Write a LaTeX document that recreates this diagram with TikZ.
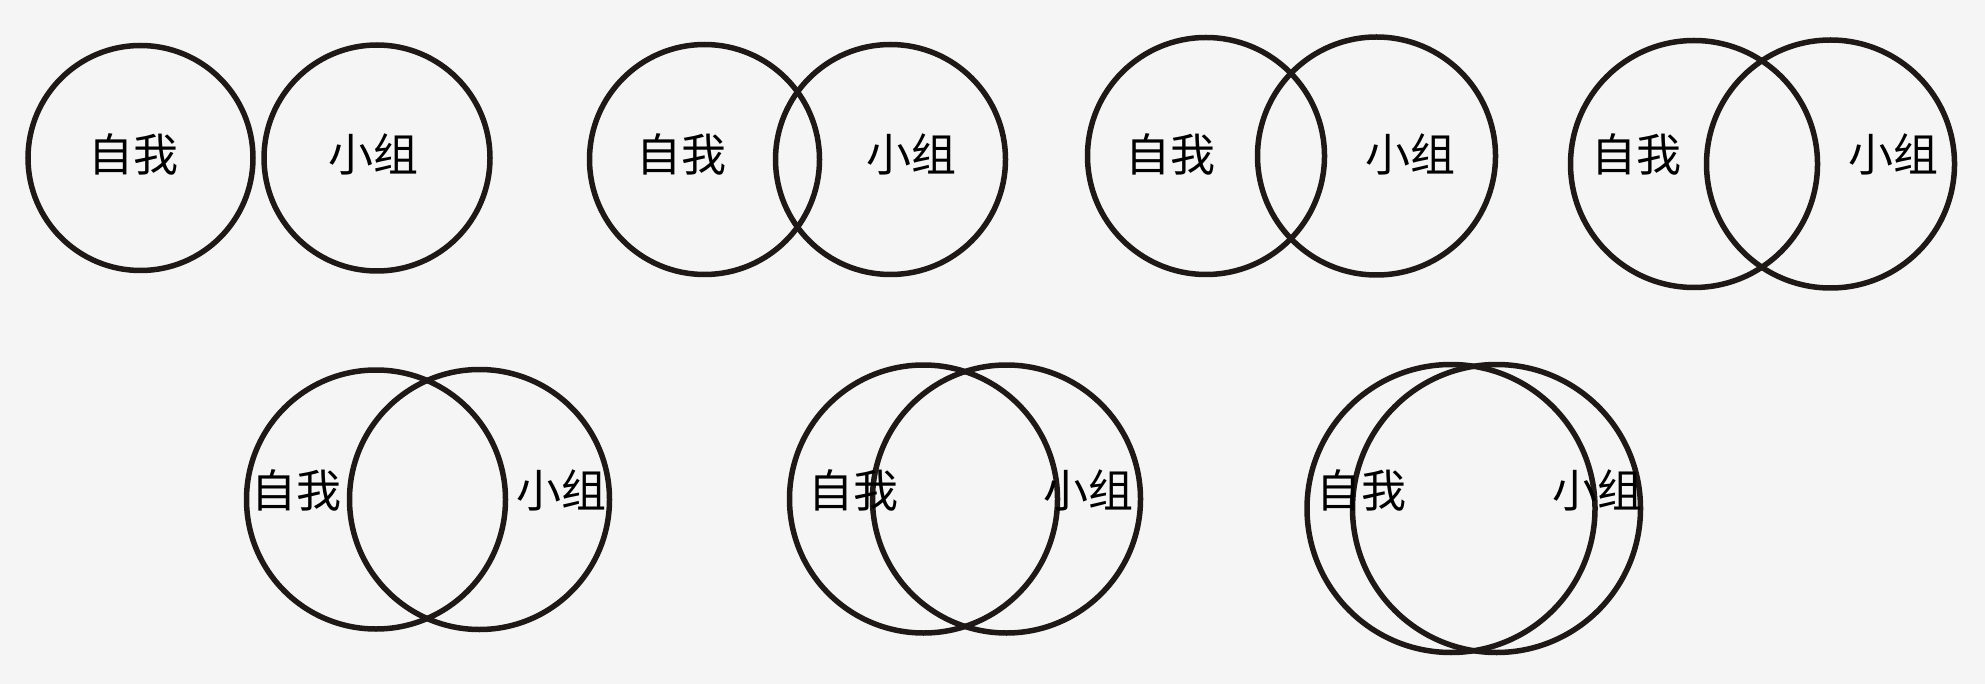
\documentclass[tikz,border=0pt]{standalone}
\usepackage{fontspec}
\newfontfamily\cjk{Noto Sans CJK SC}
\definecolor{bgc}{HTML}{F5F5F5}
\definecolor{ink}{HTML}{1E1816}
\begin{document}
\begin{tikzpicture}[x=1pt,y=-1pt,
  ring/.style={draw=ink,line width=5.5pt,circle,inner sep=0pt,minimum size=#1},
  lbl/.style={font=\cjk\fontsize{45}{45}\selectfont,text=black,anchor=base,inner sep=0pt}]
\fill[bgc] (0,0) rectangle (1985,684);
\useasboundingbox (0,0) rectangle (1985,684);
% pair 1
\node[ring=225] (a1) at (140.5,158) {};
\node[ring=226] (b1) at (377,158) {};
\node[lbl] (ta1) at (133,172) {自我};
\node[lbl] (tb1) at (373,172) {小组};
% pair 2
\node[ring=230] (a2) at (704.5,159.5) {};
\node[ring=230] (b2) at (890.5,159.5) {};
\node[lbl] (ta2) at (681,172) {自我};
\node[lbl] (tb2) at (911,172) {小组};
% pair 3
\node[ring=237] (a3) at (1206,156) {};
\node[ring=238] (b3) at (1376.5,156) {};
\node[lbl] (ta3) at (1170,172) {自我};
\node[lbl] (tb3) at (1410,172) {小组};
% pair 4
\node[ring=247] (a4) at (1694,164) {};
\node[ring=248] (b4) at (1830.5,164) {};
\node[lbl] (ta4) at (1636.5,172) {自我};
\node[lbl] (tb4) at (1893.5,172) {小组};
% pair 5
\node[ring=259] (a5) at (376,499.5) {};
\node[ring=260] (b5) at (479.5,499.5) {};
\node[lbl] (ta5) at (296.5,507) {自我};
\node[lbl] (tb5) at (561.5,507) {小组};
% pair 6
\node[ring=268] (a6) at (923.5,499) {};
\node[ring=268] (b6) at (1006.5,499) {};
\node[lbl] (ta6) at (853.5,507) {自我};
\node[lbl] (tb6) at (1088.5,507) {小组};
% pair 7
\node[ring=288] (a7) at (1451,508.5) {};
\node[ring=288] (b7) at (1496.5,508.5) {};
\node[lbl] (ta7) at (1361.5,507) {自我};
\node[lbl] (tb7) at (1597.5,507) {小组};
\end{tikzpicture}
\end{document}
